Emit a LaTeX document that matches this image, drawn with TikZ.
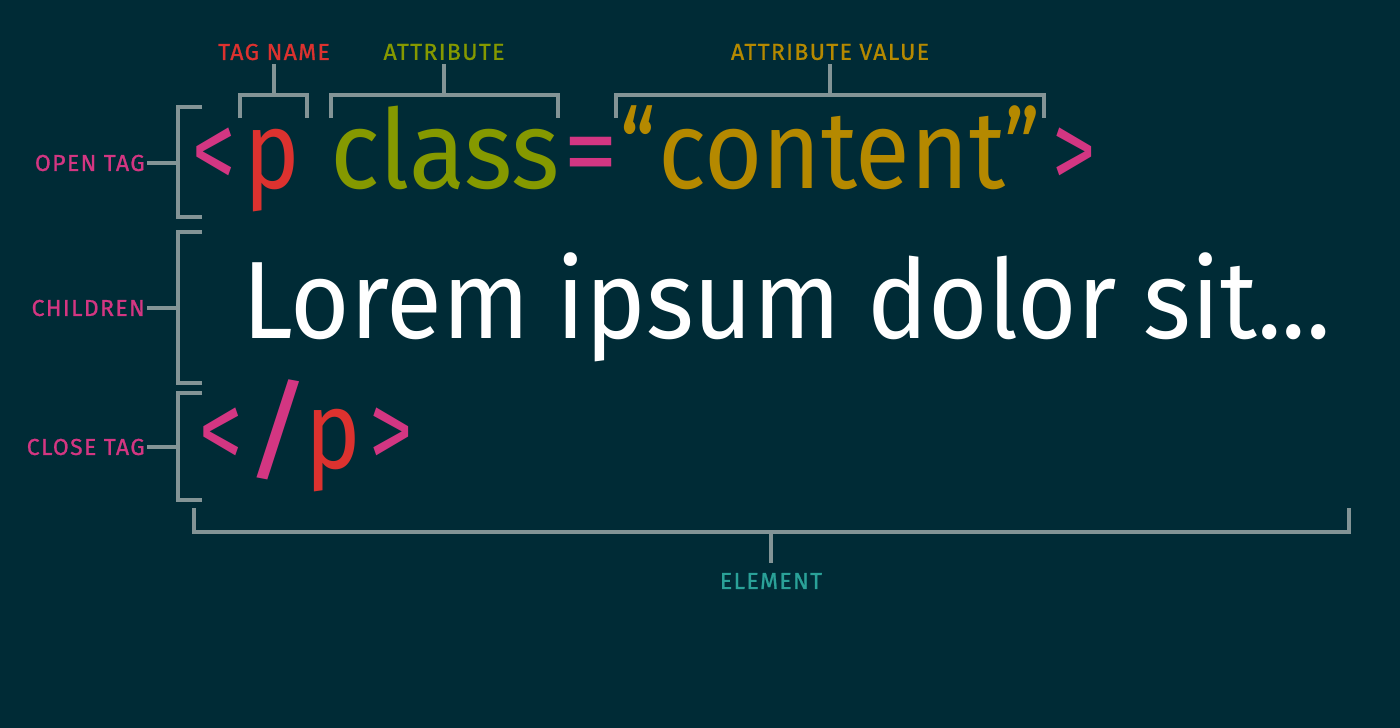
\documentclass[tikz,border=0pt]{standalone}
\usepackage{fontspec}
\setmainfont{Fira Sans}
\newfontfamily\lblfont{Fira Sans}[LetterSpace=6,FakeBold=1]
\definecolor{bg}{HTML}{002B36}
\definecolor{brk}{HTML}{839496}
\definecolor{smag}{HTML}{D33682}
\definecolor{sred}{HTML}{DC322F}
\definecolor{sgreen}{HTML}{859900}
\definecolor{syellow}{HTML}{B58900}
\definecolor{scyan}{HTML}{2AA198}
\newcommand{\sx}[2]{\scalebox{#1}[1]{#2}}
\begin{document}
\begin{tikzpicture}[x=1pt,y=-1pt,
  br/.style={draw=brk, line width=3.5pt},
  lbl/.style={font=\lblfont\fontsize{23}{23}\selectfont, inner sep=2pt},
  big/.style={font=\fontsize{110}{110}\selectfont, inner sep=0pt, anchor=base west}]
\fill[bg] (0,0) rectangle (1400,728);
\useasboundingbox (0,0) rectangle (1400,728);
% open tag
\node[big, text=smag] (lt) at (192,188) {\sx{0.79}{<}};
\node[big, text=sred] (p) at (244,188) {\sx{0.85}{p}};
\node[big, text=sgreen] (cls) at (330,188) {\sx{0.94}{class}};
\node[big, text=smag] (eq) at (563,188) {=};
\node[big, text=syellow] (oq) at (620,188) {\sx{0.8}{“}};
\node[big, text=syellow] (val) at (658,188) {\sx{0.91}{content}};
\node[big, text=syellow] (cq) at (1004,188) {\sx{0.8}{”}};
\node[big, text=smag] (gt) at (1052,188) {\sx{0.79}{>}};
% children
\node[big, text=white] (lorem) at (242,338) {\sx{0.928}{Lorem ipsum dolor sit...}};
% close tag
\node[big, text=smag] (clt) at (199,468) {\sx{0.79}{<}};
\node[big, text=smag] (sl) at (242,468) {\sx{1.25}{/}};
\node[big, text=sred] (cp) at (305,468) {\sx{0.85}{p}};
\node[big, text=smag] (cgt) at (369,468) {\sx{0.79}{>}};
% left labels
\node[lbl, text=smag, anchor=east] (openlbl) at (147,163) {OPEN TAG};
\node[lbl, text=smag, anchor=east] (childlbl) at (147,308) {CHILDREN};
\node[lbl, text=smag, anchor=east] (closelbl) at (147,447) {CLOSE TAG};
% top labels
\node[lbl, text=sred] (tnlbl) at (274,52) {TAG NAME};
\node[lbl, text=sgreen] (attlbl) at (444,52) {ATTRIBUTE};
\node[lbl, text=syellow] (avlbl) at (830,52) {ATTRIBUTE VALUE};
\node[lbl, text=scyan] (ellbl) at (771,581) {ELEMENT};
% left brackets
\draw[br] (202,107) -| (178,217) -- (202,217);
\coordinate (openmid) at (178,163);
\draw[br] (openlbl.east) -- (openmid);
\draw[br] (202,232) -| (178,383) -- (202,383);
\coordinate (childmid) at (178,308);
\draw[br] (childlbl.east) -- (childmid);
\draw[br] (202,393) -| (178,500) -- (202,500);
\coordinate (closemid) at (178,447);
\draw[br] (closelbl.east) -- (closemid);
% top brackets
\draw[br] (240,118) |- (307,95) -- (307,118);
\coordinate (tnmid) at (274,95);
\draw[br, shorten >=2pt] (tnmid) -- (tnlbl.south);
\draw[br] (331,118) |- (558,95) -- (558,118);
\coordinate (attmid) at (444,95);
\draw[br, shorten >=2pt] (attmid) -- (attlbl.south);
\draw[br] (616,118) |- (1044,95) -- (1044,118);
\coordinate (avmid) at (830,95);
\draw[br, shorten >=2pt] (avmid) -- (avlbl.south);
% element bracket
\draw[br] (194,508) |- (1349,532) -- (1349,508);
\coordinate (elmid) at (771,532);
\draw[br, shorten >=8pt] (elmid) -- (ellbl.north);
\end{tikzpicture}
\end{document}
